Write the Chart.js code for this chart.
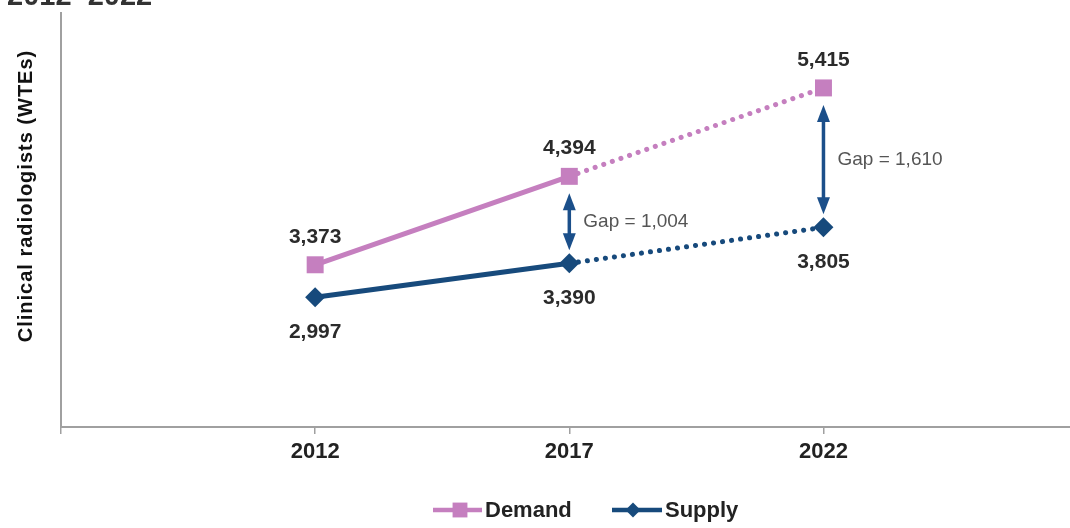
<!DOCTYPE html>
<html>
<head>
<meta charset="utf-8">
<script src="https://cdn.jsdelivr.net/npm/chart.js@4/dist/chart.umd.min.js"></script>
<style>
    html, body { margin: 0; padding: 0; background: #fff; }
    #wrap { width: 1070px; height: 528px; position: relative; }
</style>
</head>
<body>
<div id="wrap"><canvas id="graficoRadiologistas" width="1070" height="528"></canvas></div>
<script>
// DADOS
const anos = [2012, 2017, 2022];
const demanda = [3373, 4394, 5415];
const oferta = [2997, 3390, 3805];
const rotulosAnos = ['2012', '2017', '2022'];
const marcasEixoX = [2007, 2012, 2017, 2022];
const tituloEixoY = 'Clinical radiologists (WTEs)';
const tituloPeriodo = '2012–2022';
const nomesSeries = ['Demand', 'Supply'];

const corDemanda = '#c57fbf';
const corOferta = '#174a7c';
const corSeta = '#1b4f8a';

function formatar(v) {
    return v.toLocaleString('en-US');
}

// trecho projetado (2017 -> 2022) fica pontilhado
function tracejado(ctx) {
    return ctx.p0DataIndex >= 1 ? [0.1, 9] : undefined;
}

function desenharSeta(ctx, x, y1, y2) {
    const cab = 17, larg = 6.5;
    ctx.save();
    ctx.strokeStyle = corSeta;
    ctx.fillStyle = corSeta;
    ctx.lineWidth = 3.5;
    ctx.beginPath();
    ctx.moveTo(x, y1 + cab - 2);
    ctx.lineTo(x, y2 - cab + 2);
    ctx.stroke();
    ctx.beginPath();
    ctx.moveTo(x, y1);
    ctx.lineTo(x - larg, y1 + cab);
    ctx.lineTo(x + larg, y1 + cab);
    ctx.closePath();
    ctx.fill();
    ctx.beginPath();
    ctx.moveTo(x, y2);
    ctx.lineTo(x - larg, y2 - cab);
    ctx.lineTo(x + larg, y2 - cab);
    ctx.closePath();
    ctx.fill();
    ctx.restore();
}

const anotacoes = {
    id: 'anotacoes',
    afterDatasetsDraw(chart) {
        const ctx = chart.ctx;
        const metaD = chart.getDatasetMeta(0).data;
        const metaS = chart.getDatasetMeta(1).data;

        ctx.save();
        // titulo cortado no topo
        ctx.fillStyle = '#333';
        ctx.font = 'bold 29px "Liberation Sans", Arial, sans-serif';
        ctx.textAlign = 'left';
        ctx.textBaseline = 'alphabetic';
        ctx.fillText(tituloPeriodo, 7, 5);

        // titulo do eixo Y
        ctx.save();
        ctx.translate(26, 196);
        ctx.rotate(-Math.PI / 2);
        ctx.font = 'bold 20px "Liberation Sans", Arial, sans-serif';
        ctx.letterSpacing = '1px';
        ctx.fillStyle = '#111';
        ctx.textAlign = 'center';
        ctx.textBaseline = 'middle';
        ctx.fillText(tituloEixoY, 0, 0);
        ctx.restore();

        // rotulos de valor
        ctx.font = 'bold 21px "Liberation Sans", Arial, sans-serif';
        ctx.fillStyle = '#2b2b2b';
        ctx.textAlign = 'center';
        ctx.textBaseline = 'middle';
        metaD.forEach((p, i) => ctx.fillText(formatar(demanda[i]), p.x, p.y - 28));
        metaS.forEach((p, i) => ctx.fillText(formatar(oferta[i]), p.x, p.y + 35));

        // setas de diferenca
        ctx.font = '19px "Liberation Sans", Arial, sans-serif';
        ctx.textAlign = 'left';
        for (let i = 1; i < anos.length; i++) {
            const x = metaD[i].x;
            const y1 = metaD[i].y + 17;
            const y2 = metaS[i].y - 13;
            desenharSeta(ctx, x, y1, y2);
            ctx.fillStyle = '#555';
            ctx.fillText('Gap = ' + formatar(demanda[i] - oferta[i]), x + 14, (y1 + y2) / 2);
        }

        // legenda
        const itens = [
            { nome: nomesSeries[0], cor: corDemanda, estilo: 'rect', raio: 10.5, x0: 433, x1: 482, xm: 460 },
            { nome: nomesSeries[1], cor: corOferta, estilo: 'rectRot', raio: 7.5, x0: 612, x1: 662, xm: 633 }
        ];
        const yl = 510;
        itens.forEach(it => {
            ctx.strokeStyle = it.cor;
            ctx.lineWidth = 4.5;
            ctx.beginPath();
            ctx.moveTo(it.x0, yl);
            ctx.lineTo(it.x1, yl);
            ctx.stroke();
            ctx.fillStyle = it.cor;
            Chart.helpers.drawPoint(ctx, { pointStyle: it.estilo, radius: it.raio, borderWidth: 0 }, it.xm, yl);
            ctx.fillStyle = '#222';
            ctx.font = 'bold 22px "Liberation Sans", Arial, sans-serif';
            ctx.textAlign = 'left';
            ctx.textBaseline = 'middle';
            ctx.fillText(it.nome, it.x1 + 3, yl + 1);
        });
        ctx.restore();
    }
};

const ctx = document.getElementById('graficoRadiologistas').getContext('2d');

new Chart(ctx, {
    type: 'line',
    data: {
        datasets: [{
            label: nomesSeries[0],
            data: anos.map((a, i) => ({ x: a, y: demanda[i] })),
            borderColor: corDemanda,
            backgroundColor: corDemanda,
            borderWidth: 5,
            borderCapStyle: 'round',
            pointStyle: 'rect',
            pointRadius: 12,
            pointBorderWidth: 0,
            segment: { borderDash: tracejado }
        }, {
            label: nomesSeries[1],
            data: anos.map((a, i) => ({ x: a, y: oferta[i] })),
            borderColor: corOferta,
            backgroundColor: corOferta,
            borderWidth: 5,
            borderCapStyle: 'round',
            pointStyle: 'rectRot',
            pointRadius: 10,
            pointBorderWidth: 0,
            segment: { borderDash: tracejado }
        }]
    },
    options: {
        responsive: false,
        animation: false,
        devicePixelRatio: 1,
        layout: { autoPadding: false, padding: { top: 13, left: 0, right: 0, bottom: 0 } },
        plugins: {
            legend: { display: false },
            tooltip: { enabled: false }
        },
        scales: {
            x: {
                type: 'linear',
                min: 2007,
                max: 2026.85,
                afterFit: s => { s.height = 101; s.paddingRight = 0; s.paddingLeft = 0; },
                afterBuildTicks: s => { s.ticks = marcasEixoX.map(v => ({ value: v })); },
                border: { color: '#a0a0a0', width: 2 },
                grid: { drawOnChartArea: false, drawTicks: true, tickLength: 7, color: '#a0a0a0', lineWidth: 1.5 },
                ticks: {
                    padding: 5,
                    maxRotation: 0,
                    autoSkip: false,
                    color: '#222',
                    font: { family: '"Liberation Sans", Arial, sans-serif', size: 22, weight: 'bold' },
                    callback: v => {
                        const i = anos.indexOf(v);
                        return i >= 0 ? rotulosAnos[i] : '';
                    }
                }
            },
            y: {
                min: 1500,
                max: 6280,
                afterFit: s => { s.width = 61; },
                border: { color: '#a0a0a0', width: 2 },
                grid: { display: false },
                ticks: { display: false }
            }
        }
    },
    plugins: [anotacoes]
});
</script>
</body>
</html>
